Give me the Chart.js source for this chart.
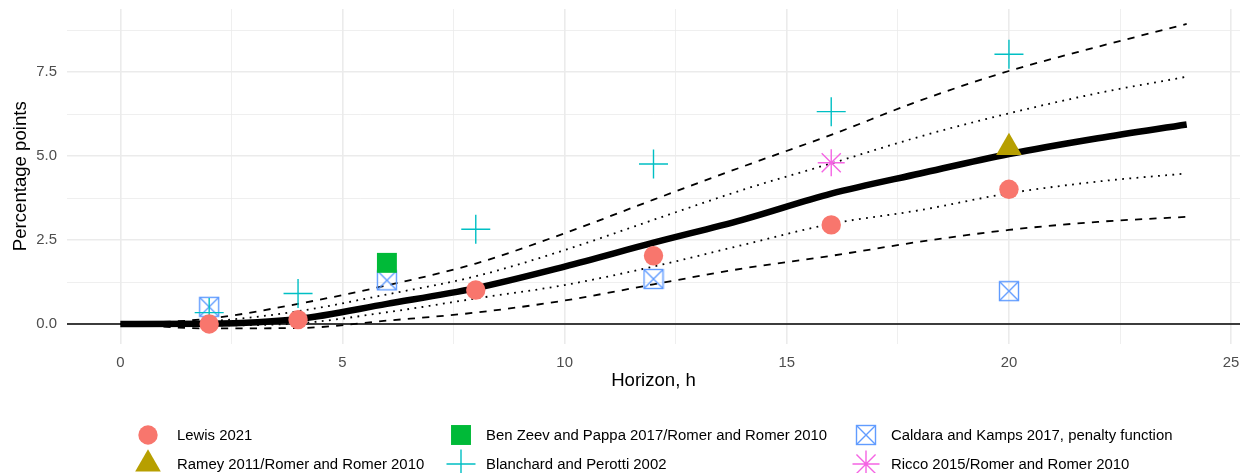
<!DOCTYPE html>
<html><head><meta charset="utf-8">
<script src="https://cdn.jsdelivr.net/npm/chart.js@4.4.1/dist/chart.umd.min.js"></script>
<style>html,body{margin:0;padding:0;background:#fff}#wrap{width:1241px;height:473px;position:relative}canvas{display:block}</style>
</head><body><div id="wrap"><canvas id="c" width="1241" height="473"></canvas></div>
<script>
// ---- data ----
const horizons = [0, 2, 4, 6, 8, 10, 12, 14, 16, 18, 20, 22, 24];
const central   = [0, 0.01, 0.15, 0.60, 1.07, 1.71, 2.42, 3.10, 3.88, 4.48, 5.06, 5.53, 5.94];
const upper68   = [0, 0.08, 0.38, 0.88, 1.42, 2.20, 3.10, 3.99, 4.78, 5.58, 6.27, 6.87, 7.36];
const lower68   = [0, -0.04, 0.02, 0.35, 0.76, 1.16, 1.71, 2.35, 2.98, 3.39, 3.89, 4.24, 4.48];
const upper90   = [0, 0.16, 0.60, 1.15, 1.80, 2.70, 3.70, 4.68, 5.63, 6.65, 7.53, 8.25, 8.93];
const lower90   = [0, -0.13, -0.12, 0.10, 0.34, 0.70, 1.18, 1.65, 2.03, 2.45, 2.80, 3.04, 3.19];

const lewisH = [2, 4, 8, 12, 16, 20];
const lewisV = [0.00, 0.13, 1.01, 2.03, 2.95, 4.01];
const rameyH = [20];
const rameyV = [5.25];
const benZeevH = [6];
const benZeevV = [1.82];
const blanchardH = [2, 4, 8, 12, 16, 20];
const blanchardV = [0.34, 0.91, 2.82, 4.76, 6.32, 8.03];
const caldaraH = [2, 6, 12, 20];
const caldaraV = [0.51, 1.30, 1.34, 0.98];
const riccoH = [16];
const riccoV = [4.80];

const seriesNames = [
  'Lewis 2021',
  'Ramey 2011/Romer and Romer 2010',
  'Ben Zeev and Pappa 2017/Romer and Romer 2010',
  'Blanchard and Perotti 2002',
  'Caldara and Kamps 2017, penalty function',
  'Ricco 2015/Romer and Romer 2010'
];

const xTicks = [0, 2.5, 5, 7.5, 10, 12.5, 15, 17.5, 20, 22.5, 25];
const xTickLabels = ['0', '', '5', '', '10', '', '15', '', '20', '', '25'];
const yTicks = [0, 1.25, 2.5, 3.75, 5, 6.25, 7.5, 8.75];
const yTickLabels = ['0.0', '', '2.5', '', '5.0', '', '7.5', ''];
const xRange = [-1.2, 25.2];
const yRange = [-0.58, 9.375];

// ---- helpers ----
const pts = (xs, ys) => xs.map((x, i) => ({x: x, y: ys[i]}));
const FONT = '"Liberation Sans", Arial, sans-serif';
const noPad = () => ({left: 0, top: 0, right: 0, bottom: 0});

function boxX(color) {
  const c = document.createElement('canvas');
  c.width = 22; c.height = 22;
  const g = c.getContext('2d');
  g.strokeStyle = color; g.lineWidth = 1.4;
  g.strokeRect(1.5, 1.5, 19, 19);
  g.beginPath();
  g.moveTo(1.5, 1.5); g.lineTo(20.5, 20.5);
  g.moveTo(20.5, 1.5); g.lineTo(1.5, 20.5);
  g.stroke();
  return c;
}
const caldaraIcon = boxX('#619CFF');

function pointDs(label, xs, ys, color, style, radius, fill) {
  return {
    label: label, data: pts(xs, ys), showLine: false, clip: false,
    pointStyle: style, pointRadius: radius, pointHoverRadius: radius,
    pointBackgroundColor: fill ? color : 'rgba(0,0,0,0)',
    pointBorderColor: color, pointBorderWidth: fill ? 0 : 1.4,
    backgroundColor: color, borderColor: color
  };
}
function lineDs(ys, width, dash) {
  return {
    label: '', data: pts(horizons, ys), showLine: true, pointRadius: 0,
    borderColor: '#000', borderWidth: width, borderDash: dash,
    cubicInterpolationMode: 'monotone', fill: false, borderCapStyle: 'butt',
    borderJoinStyle: 'round'
  };
}

const pointSets = [
  pointDs(seriesNames[0], lewisH, lewisV, '#F8766D', 'circle', 9.7, true),
  pointDs(seriesNames[1], rameyH, rameyV, '#B79F00', 'triangle', 14.8, true),
  pointDs(seriesNames[2], benZeevH, benZeevV, '#00BA38', 'rect', 14.1, true),
  pointDs(seriesNames[3], blanchardH, blanchardV, '#00BFC4', 'cross', 14.5, false),
  pointDs(seriesNames[4], caldaraH, caldaraV, '#619CFF', caldaraIcon, 11, false),
  pointDs(seriesNames[5], riccoH, riccoV, '#F564E3', 'star', 13.5, false)
];

const lineSets = [
  lineDs(central, 6.5, []),
  lineDs(upper68, 1.8, [1.8, 5.4]),
  lineDs(lower68, 1.8, [1.8, 5.4]),
  lineDs(upper90, 1.8, [7.2, 7.2]),
  lineDs(lower90, 1.8, [7.2, 7.2])
];

const legendLayout = [
  {col: 0, row: 0}, {col: 0, row: 1},
  {col: 1, row: 0}, {col: 1, row: 1},
  {col: 2, row: 0}, {col: 2, row: 1}
];
const legendColX = [148, 461, 866];
const legendTextX = [177, 486, 891];
const legendRowY = [435, 464];

const decor = {
  id: 'decor',
  beforeDatasetsDraw(chart) {
    const ctx = chart.ctx, a = chart.chartArea, ys = chart.scales.y;
    const y0 = ys.getPixelForValue(0);
    ctx.save();
    ctx.strokeStyle = '#000'; ctx.lineWidth = 1.5;
    ctx.beginPath(); ctx.moveTo(a.left, y0); ctx.lineTo(a.right, y0); ctx.stroke();
    ctx.restore();
  },
  afterDraw(chart) {
    const ctx = chart.ctx, a = chart.chartArea;
    const H = Chart.helpers;
    ctx.save();
    // axis titles
    ctx.fillStyle = '#000';
    ctx.font = '18.6px ' + FONT;
    ctx.textAlign = 'center'; ctx.textBaseline = 'middle';
    ctx.fillText('Horizon, h', (a.left + a.right) / 2, 381);
    ctx.save();
    ctx.translate(20.5, (a.top + a.bottom) / 2);
    ctx.rotate(-Math.PI / 2);
    ctx.fillText('Percentage points', 0, 0);
    ctx.restore();
    // legend
    ctx.font = '14.9px ' + FONT;
    ctx.textAlign = 'left'; ctx.textBaseline = 'middle';
    pointSets.forEach((ds, i) => {
      const L = legendLayout[i];
      const x = legendColX[L.col], y = legendRowY[L.row];
      ctx.save();
      ctx.fillStyle = ds.pointBackgroundColor;
      ctx.strokeStyle = ds.pointBorderColor;
      ctx.lineWidth = ds.pointBorderWidth;
      H.drawPoint(ctx, {pointStyle: ds.pointStyle, radius: ds.pointRadius, rotation: 0, borderWidth: ds.pointBorderWidth}, x, y);
      ctx.restore();
      ctx.fillStyle = '#000';
      ctx.fillText(ds.label, legendTextX[L.col], y + 1);
    });
    ctx.restore();
  }
};

new Chart(document.getElementById('c'), {
  type: 'scatter',
  data: { datasets: pointSets.concat(lineSets) },
  options: {
    responsive: false, animation: false, devicePixelRatio: 1,
    layout: { autoPadding: false, padding: { top: 9, right: 1, left: 0, bottom: 0 } },
    plugins: { legend: { display: false }, tooltip: { enabled: false } },
    scales: {
      x: {
        type: 'linear', min: xRange[0], max: xRange[1],
        afterBuildTicks: s => { s.ticks = xTicks.map(v => ({value: v})); },
        afterFit: s => { s.height = 129.5; s.paddingLeft = 0; s.paddingRight = 0; s.getPadding = noPad; },
        ticks: {
          autoSkip: false, maxRotation: 0, padding: 10,
          color: '#4D4D4D', font: { family: FONT, size: 14.9 },
          callback: (v, i) => xTickLabels[i]
        },
        grid: {
          drawTicks: false,
          color: '#EBEBEB',
          lineWidth: c => (c.tick && xTickLabels[xTicks.indexOf(c.tick.value)] !== '' ? 1.6 : 0.8)
        },
        border: { display: false }
      },
      y: {
        type: 'linear', min: yRange[0], max: yRange[1],
        afterBuildTicks: s => { s.ticks = yTicks.map(v => ({value: v})); },
        afterFit: s => { s.width = 67; s.paddingTop = 0; s.paddingBottom = 0; s.getPadding = noPad; },
        ticks: {
          autoSkip: false, padding: 10,
          color: '#4D4D4D', font: { family: FONT, size: 14.9 },
          callback: (v, i) => yTickLabels[i]
        },
        grid: {
          drawTicks: false,
          color: '#EBEBEB',
          lineWidth: c => (c.tick && yTickLabels[yTicks.indexOf(c.tick.value)] !== '' ? 1.6 : 0.8)
        },
        border: { display: false }
      }
    }
  },
  plugins: [decor]
});
</script></body></html>
